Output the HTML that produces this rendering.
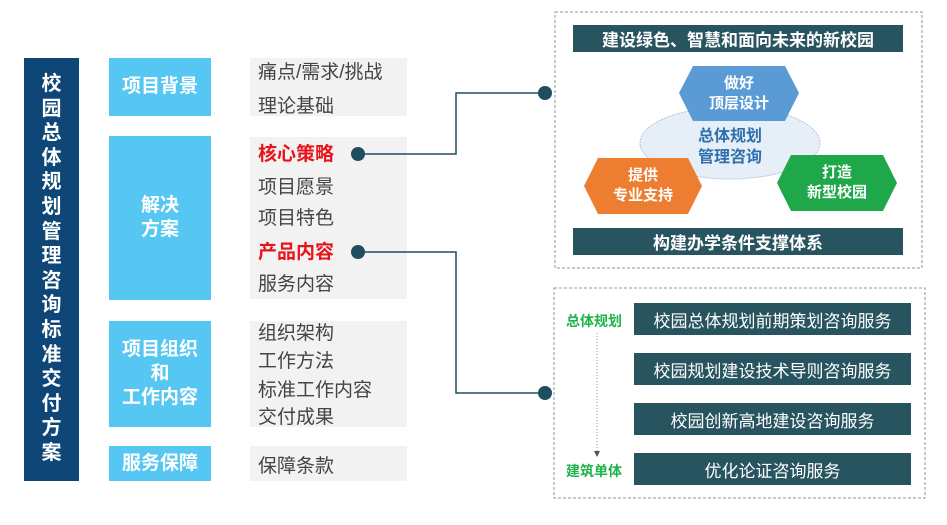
<!DOCTYPE html>
<html><head><meta charset="utf-8"><style>
body{margin:0;width:947px;height:525px;background:#fff;position:relative;overflow:hidden;font-family:"Liberation Sans","Noto Sans CJK SC",sans-serif}
div{position:absolute;box-sizing:border-box}
.lb{background:#56c7f2;color:#fff;font-weight:bold;font-size:19px;display:flex;align-items:center;justify-content:center;text-align:center;line-height:24px}
.gb{background:#f2f2f2}
.t{font-size:19px;color:#444;left:258px;white-space:nowrap;line-height:22px}
.r{color:#e8141b;font-weight:bold}
.bar{background:#27545f;color:#fff;font-size:17px;display:flex;align-items:center;justify-content:center}
.g{color:#1fb34b;font-weight:bold;font-size:14px}
</style></head><body>
<div style="left:24px;top:58px;width:55px;height:423px;background:#0d4677;color:#fff;font-weight:bold;font-size:20px;line-height:24.6px;text-align:center;padding-top:14px">校<br>园<br>总<br>体<br>规<br>划<br>管<br>理<br>咨<br>询<br>标<br>准<br>交<br>付<br>方<br>案</div>
<div class="lb" style="left:109px;top:58px;width:102px;height:58px">项目背景</div>
<div class="lb" style="left:109px;top:136px;width:102px;height:164px">解决<br>方案</div>
<div class="lb" style="left:109px;top:321px;width:102px;height:106px">项目组织<br>和<br>工作内容</div>
<div class="lb" style="left:109px;top:446px;width:102px;height:35px">服务保障</div>
<div class="gb" style="left:250px;top:58px;width:157px;height:58px"></div>
<div class="gb" style="left:250px;top:137px;width:157px;height:162px"></div>
<div class="gb" style="left:250px;top:321px;width:157px;height:106px"></div>
<div class="gb" style="left:250px;top:446px;width:157px;height:35px"></div>
<div class="t" style="top:62px">痛点/需求/挑战</div>
<div class="t" style="top:96px">理论基础</div>
<div class="t r" style="top:144px">核心策略</div>
<div class="t" style="top:177px">项目愿景</div>
<div class="t" style="top:208px">项目特色</div>
<div class="t r" style="top:242px">产品内容</div>
<div class="t" style="top:274px">服务内容</div>
<div class="t" style="top:323px">组织架构</div>
<div class="t" style="top:351px">工作方法</div>
<div class="t" style="top:380px">标准工作内容</div>
<div class="t" style="top:407px">交付成果</div>
<div class="t" style="top:456px">保障条款</div>
<svg style="position:absolute;left:0;top:0" width="947" height="525">
<g fill="none" stroke="#1f4e5f" stroke-width="1.5">
<polyline points="358,154 456,154 456,93 545,93"/>
<polyline points="358,252 456,252 456,393 545,393"/>
</g>
<g fill="#1f4e5f"><circle cx="358" cy="154" r="7"/><circle cx="358" cy="252" r="7"/><circle cx="545" cy="93" r="7"/><circle cx="545" cy="393" r="7"/></g>
<rect x="555" y="12" width="367" height="256" fill="none" stroke="#8a9aa6" stroke-dasharray="3,2"/>
<rect x="554" y="288" width="371" height="210" fill="none" stroke="#8a9aa6" stroke-dasharray="3,2"/>
<ellipse cx="730" cy="143" rx="90" ry="36" fill="#e6eef8" stroke="#b5c4d6" stroke-dasharray="2,1"/>
<polygon points="679,93 693,66 785,66 799,93 785,121 693,121" fill="#5b9bd5"/>
<polygon points="584,186 598,158 688,158 702,186 688,214 598,214" fill="#ed7d31"/>
<polygon points="777,183 791,155 883,155 897,183 883,211 791,211" fill="#1fa84a"/>
<line x1="597" y1="333" x2="597" y2="452" stroke="#999" stroke-dasharray="1,2"/>
<polygon points="594,451 600,451 597,457" fill="#555"/>
</svg>
<div class="bar" style="left:573px;top:25px;width:330px;height:27px;font-weight:bold">建设绿色、智慧和面向未来的新校园</div>
<div class="bar" style="left:573px;top:228px;width:330px;height:27px;font-weight:bold">构建办学条件支撑体系</div>
<div style="left:679px;top:74px;width:120px;color:#fff;font-size:15px;line-height:20px;text-align:center;font-weight:bold">做好<br>顶层设计</div>
<div style="left:680px;top:126px;width:100px;color:#2e6fad;font-size:16px;line-height:21px;text-align:center;font-weight:bold">总体规划<br>管理咨询</div>
<div style="left:584px;top:166px;width:118px;color:#fff;font-size:15px;line-height:20px;text-align:center;font-weight:bold">提供<br>专业支持</div>
<div style="left:777px;top:163px;width:120px;color:#fff;font-size:15px;line-height:20px;text-align:center;font-weight:bold">打造<br>新型校园</div>
<div class="g" style="left:566px;top:311px">总体规划</div>
<div class="g" style="left:566px;top:461px">建筑单体</div>
<div class="bar" style="left:634px;top:303px;width:277px;height:32px">校园总体规划前期策划咨询服务</div>
<div class="bar" style="left:634px;top:353px;width:277px;height:32px">校园规划建设技术导则咨询服务</div>
<div class="bar" style="left:634px;top:403px;width:277px;height:32px">校园创新高地建设咨询服务</div>
<div class="bar" style="left:634px;top:453px;width:277px;height:32px">优化论证咨询服务</div>
</body></html>
